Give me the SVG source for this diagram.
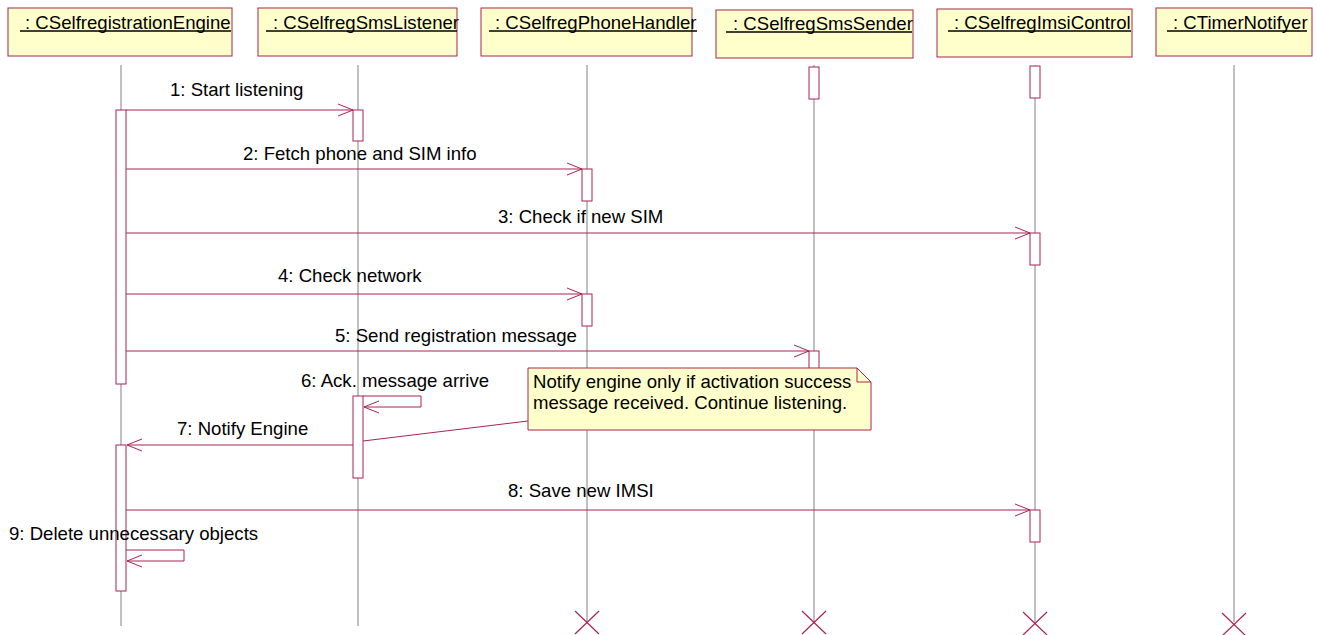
<svg xmlns="http://www.w3.org/2000/svg" width="1317" height="635" viewBox="0 0 1317 635">
<style>
.box{fill:#FFFFCC;stroke:#A8244E;stroke-width:1}
.ul{stroke:#000;stroke-width:1.3}
.life{stroke:#808080;stroke-width:1;fill:none}
.act{fill:#FFFFFF;stroke:#A8244E;stroke-width:1}
.msg{stroke:#A8244E;stroke-width:1;fill:none}
.x{stroke:#A8244E;stroke-width:1.2}
text{font-family:"Liberation Sans",Arial,sans-serif;font-size:18.6px;fill:#000}
</style>
<defs>
<marker id="ah" markerWidth="18" markerHeight="14" refX="15" refY="6" orient="auto" markerUnits="userSpaceOnUse" overflow="visible">
<path d="M0,0 L15,6 L0,12" fill="none" stroke="#A8244E" stroke-width="1"/>
</marker>
</defs>
<rect width="1317" height="635" fill="#FFFFFF"/>

<g id="lifelines">
<line class="life" x1="121" y1="65" x2="121" y2="626"/>
<line class="life" x1="358" y1="65" x2="358" y2="626"/>
<line class="life" x1="587" y1="65" x2="587" y2="622"/>
<line class="life" x1="814" y1="65" x2="814" y2="622"/>
<line class="life" x1="1035" y1="65" x2="1035" y2="622"/>
<line class="life" x1="1234" y1="65" x2="1234" y2="622"/>
</g>

<g id="n-engine">
<rect class="box" x="8" y="8" width="224" height="48"/>
<text x="25" y="29">: CSelfregistrationEngine</text>
<line class="ul" x1="20" y1="31" x2="231" y2="31"/>
<rect class="act" x="116" y="110" width="10" height="274"/>
<rect class="act" x="116" y="445" width="10" height="146"/>
</g>
<g id="n-listener">
<rect class="box" x="258" y="8" width="199" height="48"/>
<text x="273" y="29">: CSelfregSmsListener</text>
<line class="ul" x1="266" y1="31" x2="457" y2="31"/>
<rect class="act" x="353" y="110" width="10" height="31"/>
<rect class="act" x="353" y="396" width="10" height="82"/>
</g>
<g id="n-phone">
<rect class="box" x="481" y="8" width="211" height="48"/>
<text x="495" y="29">: CSelfregPhoneHandler</text>
<line class="ul" x1="489" y1="31" x2="697" y2="31"/>
<rect class="act" x="582" y="169" width="10" height="32"/>
<rect class="act" x="582" y="294" width="10" height="32"/>
<line class="x" x1="575" y1="611" x2="599" y2="634"/>
<line class="x" x1="599" y1="611" x2="575" y2="634"/>
</g>
<g id="n-sender">
<rect class="box" x="716" y="10" width="197" height="48"/>
<text x="733" y="30">: CSelfregSmsSender</text>
<line class="ul" x1="726" y1="32" x2="912" y2="32"/>
<rect class="act" x="809" y="67" width="10" height="32"/>
<rect class="act" x="809" y="351" width="10" height="50"/>
<line class="x" x1="802" y1="611" x2="826" y2="634"/>
<line class="x" x1="826" y1="611" x2="802" y2="634"/>
</g>
<g id="n-imsi">
<rect class="box" x="937" y="9" width="195" height="48"/>
<text x="954" y="29">: CSelfregImsiControl</text>
<line class="ul" x1="948" y1="31" x2="1131" y2="31"/>
<rect class="act" x="1030" y="66" width="10" height="32"/>
<rect class="act" x="1030" y="233" width="10" height="32"/>
<rect class="act" x="1030" y="510" width="10" height="32"/>
<line class="x" x1="1023" y1="612" x2="1047" y2="635"/>
<line class="x" x1="1047" y1="612" x2="1023" y2="635"/>
</g>
<g id="n-timer">
<rect class="box" x="1156" y="8" width="156" height="48"/>
<text x="1173" y="29">: CTimerNotifyer</text>
<line class="ul" x1="1167" y1="31" x2="1307" y2="31"/>
<line class="x" x1="1222" y1="613" x2="1246" y2="636"/>
<line class="x" x1="1246" y1="613" x2="1222" y2="636"/>
</g>

<g id="connectors">
<line class="msg" x1="126" y1="110" x2="353" y2="110" marker-end="url(#ah)"/>
<text x="170" y="96">1: Start listening</text>
<line class="msg" x1="126" y1="169" x2="582" y2="169" marker-end="url(#ah)"/>
<text x="243" y="160">2: Fetch phone and SIM info</text>
<line class="msg" x1="126" y1="233" x2="1030" y2="233" marker-end="url(#ah)"/>
<text x="498" y="223">3: Check if new SIM</text>
<line class="msg" x1="126" y1="294" x2="582" y2="294" marker-end="url(#ah)"/>
<text x="278" y="282">4: Check network</text>
<line class="msg" x1="126" y1="351" x2="809" y2="351" marker-end="url(#ah)"/>
<text x="335" y="342">5: Send registration message</text>
<polyline class="msg" points="363,396 421,396 421,407 364,407" marker-end="url(#ah)"/>
<text x="301" y="387">6: Ack. message arrive</text>
<line class="msg" x1="353" y1="445" x2="127" y2="445" marker-end="url(#ah)"/>
<text x="177" y="435">7: Notify Engine</text>
<line class="msg" x1="126" y1="510" x2="1030" y2="510" marker-end="url(#ah)"/>
<text x="508" y="497">8: Save new IMSI</text>
<polyline class="msg" points="126,550 184,550 184,561 127,561" marker-end="url(#ah)"/>
<text x="9" y="540">9: Delete unnecessary objects</text>
<line class="msg" x1="528" y1="421" x2="363" y2="441"/>
</g>

<g id="note">
<polygon class="box" points="528,368 857,368 871,382 871,430 528,430"/>
<polyline class="msg" points="857,368 857,382 871,382"/>
<text x="533" y="388">Notify engine only if activation success</text>
<text x="533" y="409">message received. Continue listening.</text>
</g>
</svg>
